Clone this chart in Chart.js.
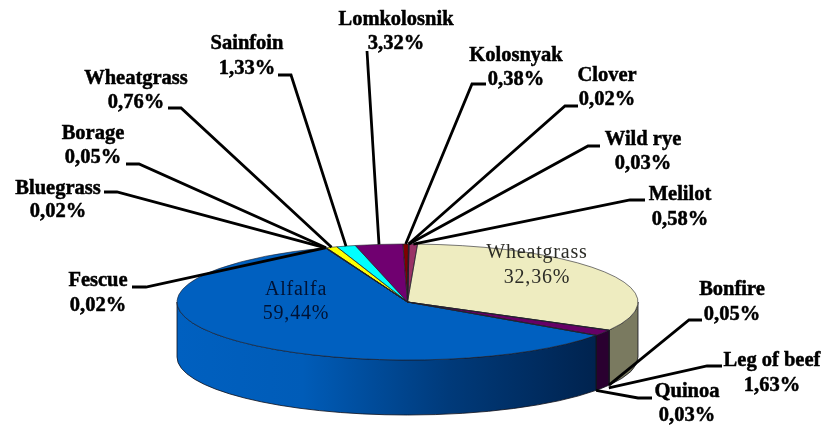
<!DOCTYPE html>
<html lang="en">
<head>
  <meta charset="UTF-8">
  <title>Forage crops</title>
  <script src="https://cdn.jsdelivr.net/npm/chart.js"></script>
  <style>
    html, body { margin: 0; padding: 0; background: #fff; overflow: hidden; }
    canvas { display: block; }
  </style>
</head>
<body>
  <canvas id="pie" width="823" height="427"></canvas>

  <script>
    // Slices clockwise, starting from the big cream one
    const crops = ['Wheatgrass', 'Bonfire', 'Leg of beef', 'Quinoa', 'Alfalfa', 'Fescue', 'Bluegrass', 'Borage',
                   'Wheatgrass', 'Sainfoin', 'Lomkolosnik', 'Kolosnyak', 'Clover', 'Wild rye', 'Melilot'];
    const shares = [32.36, 0.05, 1.63, 0.03, 59.44, 0.02, 0.02, 0.05, 0.76, 1.33, 3.32, 0.38, 0.02, 0.03, 0.58];
    const topColors = ['#eeecc0', '#3a3a8c', '#660066', '#ff8080', '#0060c0', '#0000ff', '#ccffcc', '#99ccff',
                       '#ffff00', '#00ffff', '#700070', '#800000', '#008080', '#0000ff', '#993366'];
    const wallColors = ['#7a7a60', '#1c1c46', '#2a0030', '#804040', null, '#000080', '#668066', '#4c6680',
                        '#808000', '#008080', '#380038', '#400000', '#004040', '#000080', '#4c1933'];

    // Pie shape on the page
    const centerX = 407.5, centerY = 302, radiusX = 230.5, radiusY = 58, depth = 55;

    // Label placing, same order as crops: text centre x, first line y, second line y, leader stub and bend
    const labelBoxes = [
      { inside: true, x: 537, y1: 253, y2: 278 },
      { x: 732, y1: 290, y2: 315, stub: [702, 320], bend: [689, 320] },
      { x: 772, y1: 361, y2: 386, stub: [722, 366], bend: [707, 366], shift: 6 },
      { x: 687, y1: 392, y2: 416, stub: [652, 398], bend: [638, 398] },
      { inside: true, x: 296, y1: 290, y2: 314 },
      { x: 98, y1: 281, y2: 306, stub: [132, 287], bend: [146, 287] },
      { x: 58, y1: 189, y2: 212, stub: [104, 192], bend: [117, 192] },
      { x: 93, y1: 134, y2: 158, stub: [126, 164], bend: [139, 164] },
      { x: 136, y1: 79, y2: 103, stub: [168, 108], bend: [181, 108] },
      { x: 247, y1: 44, y2: 69, stub: [278, 75], bend: [291, 75] },
      { x: 396, y1: 20, y2: 44, stub: [367, 51], bend: [367, 51] },
      { x: 516, y1: 56, y2: 80, stub: [486, 84], bend: [472, 84] },
      { x: 607, y1: 76, y2: 100, stub: [578, 106], bend: [565, 106] },
      { x: 643, y1: 140, y2: 164, stub: [600, 146], bend: [588, 146] },
      { x: 680, y1: 195, y2: 220, stub: [645, 200], bend: [630, 200] }
    ];

    function percentText(v) {
      return v.toFixed(2).replace('.', ',') + '%';
    }

    // Flattens the library's round pie and draws the side wall under it
    const tiltPlugin = {
      id: 'tilt',
      beforeDatasetsDraw(chart) {
        const ctx = chart.ctx;
        const arcs = chart.getDatasetMeta(0).data;

        const blue = ctx.createLinearGradient(centerX - radiusX, 0, 595, 0);
        blue.addColorStop(0, '#0060c0');
        blue.addColorStop(0.3, '#005cb8');
        blue.addColorStop(0.65, '#003a7a');
        blue.addColorStop(1, '#00234f');

        arcs.forEach((arc, i) => {
          // only the part facing us has a wall
          let a0 = arc.startAngle, a1 = arc.endAngle;
          if (a0 > Math.PI) return;
          a0 = Math.max(a0, 0);
          a1 = Math.min(a1, Math.PI);
          if (a1 <= a0) return;
          ctx.beginPath();
          ctx.ellipse(centerX, centerY, radiusX, radiusY, 0, a0, a1);
          ctx.ellipse(centerX, centerY + depth, radiusX, radiusY, 0, a1, a0, true);
          ctx.closePath();
          ctx.fillStyle = wallColors[i] || blue;
          ctx.fill();
          ctx.strokeStyle = '#10101a';
          ctx.lineWidth = 0.8;
          ctx.stroke();
        });

        ctx.save();
        ctx.translate(0, centerY);
        ctx.scale(1, radiusY / radiusX);
        ctx.translate(0, -centerY);
      },
      afterDatasetsDraw(chart) {
        const ctx = chart.ctx;
        ctx.restore();

        // slice outlines, after the restore so the lines stay even
        chart.getDatasetMeta(0).data.forEach(arc => {
          ctx.beginPath();
          ctx.moveTo(centerX, centerY);
          ctx.ellipse(centerX, centerY, radiusX, radiusY, 0, arc.startAngle, arc.endAngle);
          ctx.closePath();
          ctx.strokeStyle = '#20202a';
          ctx.lineWidth = 0.6;
          ctx.stroke();
        });
      }
    };

    const labelPlugin = {
      id: 'sliceLabels',
      afterDraw(chart) {
        const ctx = chart.ctx;
        const arcs = chart.getDatasetMeta(0).data;
        ctx.save();
        ctx.textAlign = 'center';
        ctx.textBaseline = 'middle';

        crops.forEach((name, i) => {
          const box = labelBoxes[i];
          const arc = arcs[i];
          const value = percentText(shares[i]);

          if (box.inside) {
            ctx.filter = 'none';
            ctx.font = '20px "Liberation Serif"';
            ctx.letterSpacing = '0.8px';
            ctx.fillStyle = i === 4 ? '#001233' : '#2c2c26';
            ctx.fillText(name, box.x, box.y1);
            ctx.fillText(value, box.x, box.y2);
            ctx.letterSpacing = '0px';
            return;
          }

          // leader runs from the rim, down at the wall foot for the front slices
          const mid = (arc.startAngle + arc.endAngle) / 2;
          const front = Math.sin(mid) > 0;
          const rimX = centerX + radiusX * Math.cos(mid) + (box.shift || 0);
          const rimY = centerY + radiusY * Math.sin(mid) + (front ? depth : 0);

          ctx.filter = 'blur(0.5px)';
          ctx.strokeStyle = '#000';
          ctx.lineWidth = 2.8;
          ctx.beginPath();
          ctx.moveTo(box.stub[0], box.stub[1]);
          ctx.lineTo(box.bend[0], box.bend[1]);
          ctx.lineTo(rimX, rimY);
          ctx.stroke();

          ctx.filter = 'blur(0.4px)';
          ctx.font = 'bold 20.5px "Liberation Serif"';
          ctx.fillStyle = '#000';
          ctx.lineWidth = 0.5;
          ctx.fillText(name, box.x, box.y1);
          ctx.strokeText(name, box.x, box.y1);
          ctx.fillText(value, box.x, box.y2);
          ctx.strokeText(value, box.x, box.y2);
        });
        ctx.restore();
      }
    };

    new Chart(document.getElementById('pie'), {
      type: 'pie',
      data: {
        labels: crops,
        datasets: [{
          data: shares,
          backgroundColor: topColors,
          borderWidth: 0,
          clip: false
        }]
      },
      options: {
        responsive: false,
        animation: false,
        rotation: 2.5,
        radius: radiusX,
        // puts the pie centre on centerX / centerY
        layout: { padding: { top: 177, right: 8 } },
        plugins: { legend: { display: false }, tooltip: { enabled: false } }
      },
      plugins: [tiltPlugin, labelPlugin]
    });
  </script>
</body>
</html>
